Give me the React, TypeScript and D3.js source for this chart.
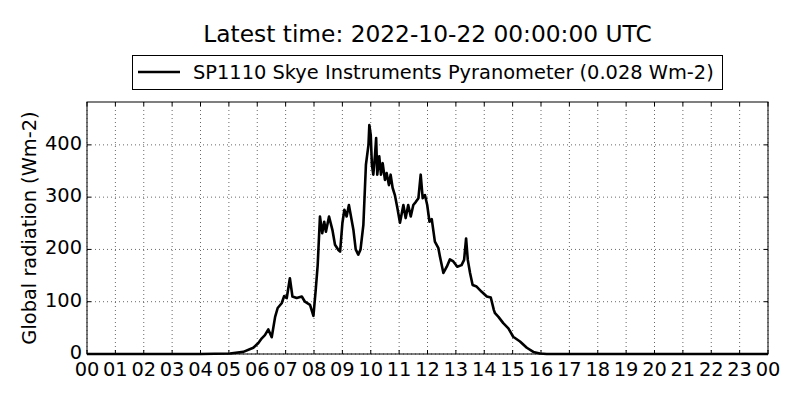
import { useMemo } from "react";
import * as d3 from "d3";

const title = "Latest time: 2022-10-22 00:00:00 UTC";
const seriesName = "SP1110 Skye Instruments Pyranometer (0.028 Wm-2)";
const yLabel = "Global radiation (Wm-2)";

// decimal hours UTC
const hours = [
  0, 4.0, 4.5, 5.04, 5.51, 5.86, 6.04, 6.16, 6.27, 6.39, 6.51, 6.63, 6.72, 6.86, 6.95, 7.04, 7.15,
  7.24, 7.39, 7.57, 7.68, 7.86, 7.98, 8.06, 8.13, 8.21, 8.29, 8.36, 8.42, 8.53, 8.65, 8.74, 8.86,
  8.92, 9.0, 9.07, 9.15, 9.23, 9.39, 9.47, 9.56, 9.64, 9.74, 9.83, 9.92, 9.95, 10.0, 10.04, 10.09, 10.15,
  10.19, 10.23, 10.3, 10.36, 10.42, 10.5, 10.56, 10.64, 10.7, 10.77, 10.85, 10.94, 11.03, 11.15,
  11.23, 11.32, 11.41, 11.5, 11.59, 11.68, 11.76, 11.83, 11.91, 11.99, 12.07, 12.15, 12.26, 12.38,
  12.44, 12.56, 12.68, 12.79, 12.91, 13.05, 13.2, 13.29, 13.36, 13.42, 13.5, 13.59, 13.73, 13.91,
  14.09, 14.23, 14.34, 14.38, 14.5, 14.67, 14.85, 15.02, 15.26, 15.5, 15.73, 15.96, 16.2, 24,
];

const radiation = [
  0, 0, 0.5, 1, 4, 12, 21, 30, 36, 47, 32, 71, 88, 97, 111, 107, 145,
  110, 107, 110, 100, 94, 73, 122, 170, 263, 231, 253, 234, 263, 237, 209, 199,
  196, 250, 276, 263, 285, 237, 200, 190, 200, 247, 362, 400, 438, 419, 362, 343, 381,
  413, 343, 378, 343, 365, 333, 346, 323, 343, 318, 304, 279, 251, 285,
  260, 285, 263, 285, 291, 298, 343, 298, 304, 285, 253, 258, 215, 203,
  186, 155, 167, 181, 177, 167, 170, 180, 221, 180, 155, 132, 129, 119,
  110, 108, 84, 78, 71, 59, 49, 33, 24, 12, 4, 1, 0, 0,
];

const xTicks = d3.range(0, 25);
const xTickLabels = xTicks.map((t) => String(t % 24).padStart(2, "0"));
const yTicks = [0, 100, 200, 300, 400];

export default function App() {
  const width = 800;
  const height = 400;
  const margin = { top: 102, right: 32, bottom: 46, left: 87 };
  const font = "DejaVu Sans, sans-serif";
  const tickFont = 19.4;

  const layout = useMemo(() => {
    const x = d3.scaleLinear().domain([0, 24]).range([margin.left, width - margin.right]);
    const y = d3.scaleLinear().domain([0, 482]).range([height - margin.bottom, margin.top]);
    return { x, y };
  }, []);

  const points = hours.map((h, i) => [h, radiation[i]] as [number, number]);
  const line = d3.line<[number, number]>().x((d) => layout.x(d[0])).y((d) => layout.y(d[1]));
  const top = margin.top;
  const bottom = height - margin.bottom;
  const left = margin.left;
  const right = width - margin.right;

  return (
    <>
      <style>{`body{margin:0}`}</style>
      <svg width={width} height={height} viewBox={`0 0 ${width} ${height}`} style={{ display: "block", background: "#fff" }} fontFamily={font}>
        <rect x={0} y={0} width={width} height={height} fill="#fff" />
        {yTicks.map((t) => (
          <line key={`gy${t}`} x1={left} x2={right} y1={layout.y(t)} y2={layout.y(t)} stroke="#000" strokeWidth={0.6} strokeDasharray="1,3" />
        ))}
        {xTicks.map((t) => (
          <line key={`gx${t}`} x1={layout.x(t)} x2={layout.x(t)} y1={top} y2={bottom} stroke="#000" strokeWidth={0.6} strokeDasharray="1,3" />
        ))}
        <path d={line(points) ?? ""} fill="none" stroke="#000" strokeWidth={2.6} strokeLinejoin="round" />
        <rect x={left} y={top} width={right - left} height={bottom - top} fill="none" stroke="#000" strokeWidth={1} />
        {xTicks.map((t, i) => (
          <g key={`tx${t}`}>
            <line x1={layout.x(t)} x2={layout.x(t)} y1={bottom} y2={bottom - 4} stroke="#000" />
            <line x1={layout.x(t)} x2={layout.x(t)} y1={top} y2={top + 4} stroke="#000" />
            <text x={layout.x(t)} y={376} textAnchor="middle" fontSize={tickFont} fill="#000">{xTickLabels[i]}</text>
          </g>
        ))}
        {yTicks.map((t) => (
          <g key={`ty${t}`}>
            <line x1={left} x2={left + 4} y1={layout.y(t)} y2={layout.y(t)} stroke="#000" />
            <line x1={right} x2={right - 4} y1={layout.y(t)} y2={layout.y(t)} stroke="#000" />
            <text x={82} y={layout.y(t) + 5} textAnchor="end" fontSize={tickFont} fill="#000">{t}</text>
          </g>
        ))}
        <text transform={`translate(36, ${(top + bottom) / 2}) rotate(-90)`} textAnchor="middle" fontSize={tickFont} fill="#000">{yLabel}</text>
        <text x={(left + right) / 2} y={42} textAnchor="middle" fontSize={23.3} fill="#000">{title}</text>
        <g>
          <rect x={132.5} y={55.5} width={590} height={34} fill="#fff" stroke="#000" strokeWidth={1} />
          <line x1={138} x2={180} y1={72} y2={72} stroke="#000" strokeWidth={2.6} />
          <text x={193} y={79} fontSize={tickFont} fill="#000">{seriesName}</text>
        </g>
      </svg>
    </>
  );
}
